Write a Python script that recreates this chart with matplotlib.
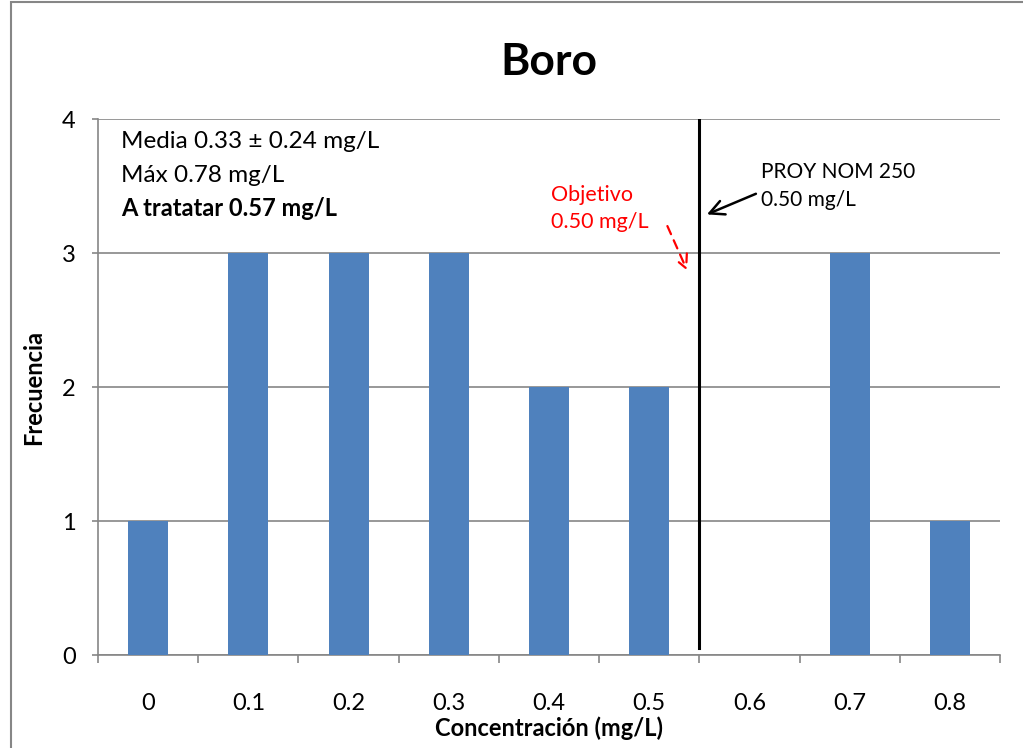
import matplotlib.pyplot as plt
from matplotlib.patches import Rectangle
import numpy as np

plt.rcParams['font.family'] = ['Lato', 'DejaVu Sans']

# histogram of boron concentrations
categorias = ['0', '0.1', '0.2', '0.3', '0.4', '0.5', '0.6', '0.7', '0.8']
frecuencia = [1, 3, 3, 3, 2, 2, 0, 3, 1]
limite_nom = 5.5  # position of the 0.50 mg/L limit line between categories

x = np.arange(len(categorias))
bar_color = '#4F81BD'
grid_color = '#868686'

fig = plt.figure(figsize=(10.23, 7.48), dpi=100)
ax = fig.add_axes([98 / 1023, 93 / 748, 902 / 1023, 536 / 748])

# chart frame
fig.patches.append(Rectangle((11 / 1023, -0.1), 1.2, (748 - 2) / 748 + 0.1,
                             transform=fig.transFigure, fill=False,
                             edgecolor='#868686', linewidth=1.5))

ax.bar(x, frecuencia, width=0.4, color=bar_color, zorder=3)
ax.set_xlim(-0.5, len(categorias) - 0.5)
ax.set_ylim(0, 4)

ax.set_yticks([0, 1, 2, 3, 4])
ax.yaxis.grid(True, color=grid_color, linewidth=1.2, zorder=0)
ax.set_xticks(x)
ax.set_xticklabels(categorias)
ax.set_xticks(np.arange(-0.5, len(categorias)), minor=True)
ax.tick_params(axis='x', which='major', length=0, pad=27, labelsize=17)
ax.tick_params(axis='x', which='minor', length=6, color=grid_color, width=1.2)
ax.tick_params(axis='y', length=4, color=grid_color, width=1.2, labelsize=17, pad=12)

for s in ['top', 'right']:
    ax.spines[s].set_visible(False)
for s in ['left', 'bottom']:
    ax.spines[s].set_color(grid_color)
    ax.spines[s].set_linewidth(1.2)

ax.set_title('Boro', fontsize=32, fontweight='bold', pad=32)
ax.set_xlabel('Concentración (mg/L)', fontsize=17, fontweight='bold', labelpad=2)
ax.set_ylabel('Frecuencia', fontsize=17, fontweight='bold', labelpad=12)

# limit line
ax.plot([limite_nom, limite_nom], [0.05, 4.0], color='black', linewidth=2.2, zorder=4)

# statistics box
ax.text(-0.27, 3.83, 'Media 0.33 ± 0.24 mg/L', fontsize=17.5, va='center')
ax.text(-0.27, 3.58, 'Máx 0.78 mg/L', fontsize=17.5, va='center')
ax.text(-0.27, 3.33, 'A tratatar 0.57 mg/L', fontsize=17, va='center', fontweight='bold')

# annotations
ax.text(6.12, 3.50, 'PROY NOM 250\n0.50 mg/L', fontsize=15, va='center',
        linespacing=1.45)
ax.annotate('', xy=(5.55, 3.28), xytext=(6.09, 3.45),
            arrowprops=dict(arrowstyle='->', color='black', lw=1.8,
                            mutation_scale=26))
ax.text(4.02, 3.33, 'Objetivo\n0.50 mg/L', fontsize=15.5, va='center',
        color='red', linespacing=1.45)
ax.annotate('', xy=(5.39, 2.85), xytext=(5.17, 3.22),
            arrowprops=dict(arrowstyle='->', color='red', lw=1.6,
                            linestyle=(0, (4, 3)), mutation_scale=24))

fig.savefig('out.png', dpi=100)
